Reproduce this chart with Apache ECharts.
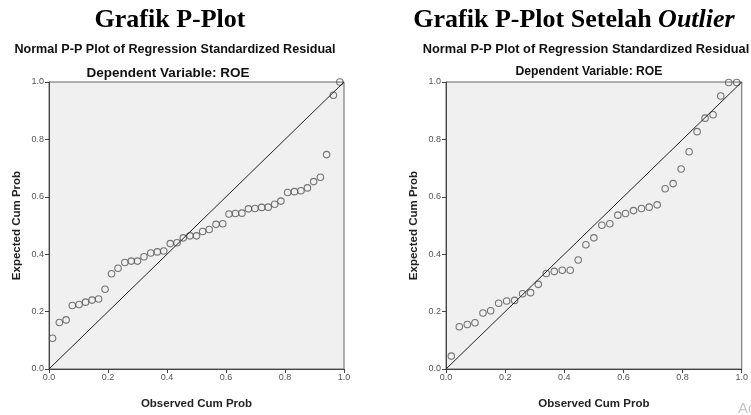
<!DOCTYPE html>
<html><head><meta charset="utf-8">
<script src="https://cdn.jsdelivr.net/npm/echarts@6/dist/echarts.min.js"></script>
<style>html,body{margin:0;padding:0;background:#fff}#c{width:751px;height:415px}</style>
</head><body><div id="c"></div>
<script>
// Left chart: before outlier removal
const obsLeft = [0.012,0.035,0.058,0.079,0.102,0.124,0.146,0.168,0.190,0.212,0.234,0.257,0.279,0.300,0.322,0.345,0.367,0.389,0.411,0.434,0.455,0.478,0.500,0.521,0.543,0.566,0.589,0.610,0.632,0.654,0.676,0.698,0.721,0.743,0.765,0.786,0.809,0.832,0.854,0.876,0.897,0.920,0.941,0.964,0.986];
const expLeft = [0.107,0.162,0.171,0.221,0.225,0.233,0.240,0.244,0.278,0.332,0.351,0.371,0.376,0.376,0.391,0.404,0.408,0.411,0.437,0.440,0.457,0.464,0.464,0.479,0.486,0.504,0.506,0.540,0.542,0.543,0.558,0.559,0.563,0.564,0.574,0.585,0.615,0.618,0.621,0.631,0.653,0.668,0.747,0.954,1.000];
// Right chart: after outlier removal
const obsRight = [0.018,0.045,0.072,0.098,0.125,0.151,0.178,0.205,0.232,0.259,0.286,0.312,0.339,0.366,0.393,0.420,0.447,0.473,0.500,0.527,0.554,0.581,0.607,0.634,0.661,0.687,0.714,0.741,0.768,0.795,0.822,0.849,0.876,0.903,0.929,0.956,0.983];
const expRight = [0.045,0.147,0.155,0.161,0.195,0.203,0.229,0.237,0.239,0.262,0.266,0.295,0.333,0.340,0.344,0.344,0.380,0.433,0.457,0.501,0.506,0.536,0.542,0.552,0.559,0.564,0.572,0.628,0.646,0.697,0.757,0.827,0.874,0.886,0.951,0.998,0.998];
const diagonal = [[0,0],[1,1]];
const tickFmt = v => v.toFixed(1);

const chart = echarts.init(document.getElementById('c'), null, {renderer:'canvas'});
const sans = 'Liberation Sans, Arial, sans-serif';
const serif = 'Liberation Serif, Times New Roman, serif';
function xAx(i){return {gridIndex:i,type:'value',min:0,max:1,interval:0.2,
  name:'Observed Cum Prob',nameLocation:'middle',nameGap:29,
  nameTextStyle:{fontFamily:sans,fontWeight:'bold',fontSize:11.5,color:'#222'},
  axisLine:{show:true,lineStyle:{color:'#444',width:1}},
  axisTick:{show:true,length:4,lineStyle:{color:'#444'}},
  axisLabel:{formatter:tickFmt,fontFamily:sans,fontSize:9,color:'#555',margin:4},
  splitLine:{show:false}};}
function yAx(i){return {gridIndex:i,type:'value',min:0,max:1,interval:0.2,
  name:'Expected Cum Prob',nameLocation:'middle',nameGap:26,
  nameTextStyle:{fontFamily:sans,fontWeight:'bold',fontSize:11.5,color:'#222'},
  axisLine:{show:true,lineStyle:{color:'#444',width:1}},
  axisTick:{show:true,length:4,lineStyle:{color:'#444'}},
  axisLabel:{formatter:tickFmt,fontFamily:sans,fontSize:9,color:'#555',margin:5},
  splitLine:{show:false}};}
const toPts = (xs,ys)=>xs.map((x,i)=>[x,ys[i]]);
const scatterStyle = {color:'rgba(0,0,0,0)',borderColor:'#555',borderWidth:1.1};
chart.setOption({
  animation:false,
  title:[
    {text:'Grafik P-Plot',left:165,top:2,textAlign:'center',
     textStyle:{fontFamily:serif,fontWeight:'bold',fontSize:26,color:'#000'}},
    {text:'{b|Grafik P-Plot Setelah }{i|Outlier}',left:569,top:2,textAlign:'center',
     textStyle:{rich:{
       b:{fontFamily:serif,fontWeight:'bold',fontSize:26,color:'#000'},
       i:{fontFamily:serif,fontWeight:'bold',fontStyle:'italic',fontSize:26,color:'#000'}}}},
    {text:'Normal P-P Plot of Regression Standardized Residual',left:170,top:38,textAlign:'center',
     textStyle:{fontFamily:sans,fontWeight:'bold',fontSize:12.6,color:'#111'}},
    {text:'Normal P-P Plot of Regression Standardized Residual',left:581,top:38,textAlign:'center',
     textStyle:{fontFamily:sans,fontWeight:'bold',fontSize:12.8,color:'#111'}},
    {text:'Dependent Variable: ROE',left:163,top:61,textAlign:'center',
     textStyle:{fontFamily:sans,fontWeight:'bold',fontSize:13.5,color:'#111'}},
    {text:'Dependent Variable: ROE',left:584,top:61,textAlign:'center',
     textStyle:{fontFamily:sans,fontWeight:'bold',fontSize:12.2,color:'#111'}},
    {text:'Ac',left:733,top:396,textStyle:{fontFamily:sans,fontWeight:'normal',fontSize:15,color:'#c4c4c4'}}
  ],
  grid:[
    {left:49,top:82,width:295,height:295,show:true,backgroundColor:'#f0f0f0',borderColor:'#666',borderWidth:1},
    {left:446,top:82,width:296,height:296,show:true,backgroundColor:'#f0f0f0',borderColor:'#666',borderWidth:1}
  ],
  xAxis:[xAx(0),xAx(1)],
  yAxis:[yAx(0),yAx(1)],
  series:[
    {type:'line',xAxisIndex:0,yAxisIndex:0,data:diagonal,symbol:'none',lineStyle:{color:'#222',width:1},silent:true},
    {type:'scatter',xAxisIndex:0,yAxisIndex:0,data:toPts(obsLeft,expLeft),symbol:'circle',symbolSize:6.5,itemStyle:scatterStyle},
    {type:'line',xAxisIndex:1,yAxisIndex:1,data:diagonal,symbol:'none',lineStyle:{color:'#222',width:1},silent:true},
    {type:'scatter',xAxisIndex:1,yAxisIndex:1,data:toPts(obsRight,expRight),symbol:'circle',symbolSize:6.5,itemStyle:scatterStyle}
  ]
});
</script></body></html>
